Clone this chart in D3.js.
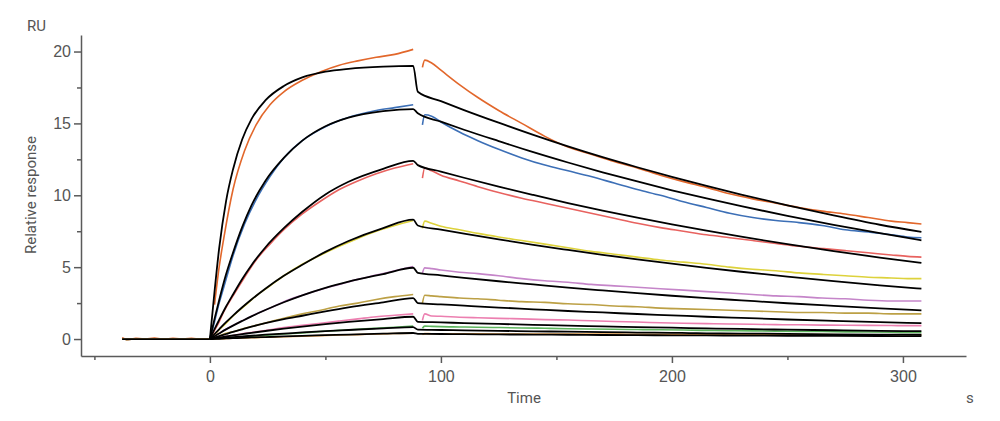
<!DOCTYPE html>
<html>
<head>
<meta charset="utf-8">
<script src="https://cdn.jsdelivr.net/npm/d3@7"></script>
<style>
  body { margin: 0; background: #fff; }
  svg { font-family: Roboto, "Noto Sans", sans-serif; }
  .axis path, .axis line { stroke: #5a5a5a; stroke-width: 1.5; }
  .axis text { fill: #555; font-size: 16px; }
  .lbl { fill: #555; font-size: 15px; }
</style>
</head>
<body>
<svg id="plot" width="1000" height="421"></svg>
<script>
// time grids (s)
var baseT = [-38, -36, -32, -28, -24, -20, -16, -12, -8, -4, 0];
var assocT = [0, 2, 4, 6, 10, 15, 20, 26, 32, 40, 48, 56, 64, 72, 80, 88];
var dissT = [92, 93, 96, 100, 108, 116, 125, 135, 145, 155, 165, 175, 185, 195, 205, 215, 225, 235, 245, 255, 265, 275, 285, 295, 302, 308];
var fitAssocT = [0, 2, 4, 7, 10, 14, 18, 24, 32, 40, 50, 60, 75, 88];
var fitDissT = [90, 100, 110, 125, 140, 155, 170, 185, 200, 215, 230, 250, 270, 290, 308];

// baseline noise before injection
var baseOrange = [0.1, -0.05, 0.05, 0.0, 0.07, -0.02, 0.06, 0.01, 0.05, -0.01, 0.0];
var baseZero = [0.02, -0.04, 0.0, 0.01, -0.01, 0.0, 0.01, -0.01, 0.0, 0.01, 0.0];

// measured curves
var names = ["c1", "c2", "c3", "c4", "c5", "c6", "c7", "c8", "c9"];
var colors = ["#e2672b", "#3c6fb6", "#e8625f", "#ddd23c", "#c585c9", "#bca045", "#ec7fb0", "#5db55d", "#eca24a"];

var assocVals = [
  [null, 2.4, 5.0, 7.0, 10.4, 13.1, 14.9, 16.3, 17.2, 18.0, 18.6, 19.05, 19.35, 19.6, 19.8, 20.15],
  [0, 1.2, 2.5, 3.6, 5.8, 8.0, 9.7, 11.3, 12.6, 13.8, 14.6, 15.2, 15.6, 15.9, 16.1, 16.3],
  [0, 0.6, 1.2, 1.9, 3.0, 4.3, 5.5, 6.6, 7.6, 8.7, 9.6, 10.4, 11.0, 11.5, 11.9, 12.2],
  [0, 0.3, 0.65, 0.95, 1.6, 2.3, 3.0, 3.7, 4.4, 5.2, 5.85, 6.45, 7.0, 7.5, 7.9, 8.25],
  [0, 0.2, 0.4, 0.6, 0.95, 1.35, 1.75, 2.15, 2.6, 3.05, 3.45, 3.8, 4.15, 4.45, 4.75, 5.05],
  [0, 0.1, 0.2, 0.35, 0.5, 0.75, 0.95, 1.2, 1.45, 1.75, 2.0, 2.3, 2.5, 2.75, 2.95, 3.1],
  [0, 0.05, 0.1, 0.15, 0.25, 0.4, 0.5, 0.65, 0.8, 0.95, 1.1, 1.25, 1.4, 1.55, 1.65, 1.75],
  [0, 0.02, 0.04, 0.06, 0.1, 0.15, 0.22, 0.28, 0.35, 0.43, 0.52, 0.6, 0.68, 0.75, 0.82, 0.9],
  [0, 0.01, 0.02, 0.03, 0.05, 0.07, 0.1, 0.13, 0.16, 0.2, 0.24, 0.28, 0.31, 0.35, 0.38, 0.4]
];
var dissVals = [
  [18.9, 19.4, 19.2, 18.7, 17.7, 16.8, 15.9, 15.0, 14.1, 13.35, 12.85, 12.35, 11.9, 11.4, 10.95, 10.55, 10.1, 9.75, 9.45, 9.15, 8.9, 8.7, 8.45, 8.2, 8.1, 8.0],
  [14.9, 15.6, 15.5, 15.1, 14.4, 13.8, 13.2, 12.6, 12.1, 11.7, 11.3, 10.85, 10.4, 10.0, 9.55, 9.15, 8.75, 8.45, 8.25, 8.1, 7.9, 7.6, 7.45, 7.25, 7.1, 7.05],
  [11.2, 11.9, 11.7, 11.4, 11.0, 10.6, 10.2, 9.8, 9.45, 9.1, 8.75, 8.4, 8.05, 7.75, 7.5, 7.25, 7.05, 6.85, 6.65, 6.45, 6.3, 6.15, 6.0, 5.85, 5.75, 5.7],
  [7.7, 8.2, 8.05, 7.85, 7.6, 7.35, 7.1, 6.85, 6.6, 6.35, 6.1, 5.9, 5.7, 5.5, 5.35, 5.2, 5.0, 4.85, 4.75, 4.6, 4.5, 4.4, 4.3, 4.25, 4.2, 4.2],
  [4.6, 4.95, 4.9, 4.8, 4.65, 4.55, 4.4, 4.2, 4.05, 3.95, 3.8, 3.7, 3.6, 3.5, 3.4, 3.3, 3.2, 3.1, 3.0, 2.95, 2.85, 2.8, 2.7, 2.65, 2.65, 2.65],
  [2.5, 3.05, 3.0, 2.95, 2.85, 2.8, 2.7, 2.6, 2.55, 2.45, 2.4, 2.3, 2.25, 2.15, 2.1, 2.05, 2.0, 1.95, 1.9, 1.85, 1.85, 1.8, 1.8, 1.75, 1.75, 1.75],
  [1.3, 1.75, 1.6, 1.58, 1.52, 1.48, 1.44, 1.4, 1.35, 1.32, 1.27, 1.22, 1.18, 1.13, 1.1, 1.07, 1.05, 1.03, 1.0, 0.99, 0.97, 0.96, 0.95, 0.94, 0.93, 0.93],
  [0.75, 0.9, 0.88, 0.86, 0.84, 0.82, 0.8, 0.77, 0.75, 0.72, 0.7, 0.68, 0.66, 0.65, 0.63, 0.6, 0.58, 0.57, 0.55, 0.53, 0.52, 0.5, 0.49, 0.47, 0.46, 0.45],
  [0.3, 0.38, 0.37, 0.37, 0.36, 0.36, 0.35, 0.35, 0.35, 0.34, 0.34, 0.34, 0.33, 0.33, 0.33, 0.32, 0.32, 0.32, 0.31, 0.31, 0.31, 0.3, 0.3, 0.3, 0.3, 0.3]
];

// fitted curves (black)
var fitAssoc = [
  [0, 3.3, 6.3, 9.6, 11.8, 13.9, 15.3, 16.6, 17.6, 18.2, 18.6, 18.8, 18.95, 19.0],
  [0, 1.4, 2.7, 4.5, 6.0, 7.8, 9.3, 11.0, 12.6, 13.8, 14.8, 15.4, 15.85, 16.0],
  [0, 0.69, 1.33, 2.26, 3.1, 4.18, 5.14, 6.37, 7.71, 8.85, 10.06, 10.94, 11.84, 12.4],
  [0, 0.35, 0.68, 1.17, 1.63, 2.21, 2.75, 3.5, 4.4, 5.17, 6.06, 6.82, 7.72, 8.3],
  [0, 0.2, 0.39, 0.67, 0.93, 1.26, 1.58, 2.02, 2.56, 3.04, 3.56, 3.99, 4.52, 4.96],
  [0, 0.1, 0.2, 0.35, 0.5, 0.68, 0.86, 1.1, 1.38, 1.62, 1.92, 2.2, 2.55, 2.85],
  [0, 0.05, 0.1, 0.18, 0.25, 0.34, 0.43, 0.56, 0.72, 0.87, 1.04, 1.19, 1.39, 1.55],
  [0, 0.03, 0.05, 0.09, 0.13, 0.18, 0.23, 0.3, 0.38, 0.46, 0.55, 0.63, 0.74, 0.83],
  [0, 0.01, 0.02, 0.04, 0.06, 0.08, 0.11, 0.14, 0.18, 0.22, 0.27, 0.31, 0.37, 0.42]
];
var fitDiss = [
  [17.2, 16.55, 15.93, 15.05, 14.2, 13.4, 12.65, 11.95, 11.28, 10.65, 10.05, 9.3, 8.6, 7.95, 7.45],
  [15.7, 15.12, 14.56, 13.77, 13.0, 12.28, 11.6, 10.96, 10.35, 9.78, 9.24, 8.57, 7.94, 7.36, 6.87],
  [12.1, 11.65, 11.22, 10.6, 10.02, 9.46, 8.94, 8.45, 7.98, 7.54, 7.12, 6.6, 6.12, 5.67, 5.3],
  [7.9, 7.61, 7.33, 6.93, 6.55, 6.2, 5.86, 5.54, 5.24, 4.95, 4.68, 4.34, 4.03, 3.74, 3.5],
  [4.6, 4.43, 4.26, 4.02, 3.8, 3.58, 3.38, 3.19, 3.01, 2.84, 2.69, 2.49, 2.31, 2.14, 2.0],
  [2.5, 2.41, 2.32, 2.19, 2.07, 1.95, 1.85, 1.74, 1.65, 1.55, 1.47, 1.36, 1.26, 1.17, 1.1],
  [1.2, 1.16, 1.11, 1.05, 0.99, 0.93, 0.88, 0.83, 0.79, 0.74, 0.7, 0.65, 0.61, 0.57, 0.55],
  [0.65, 0.63, 0.6, 0.57, 0.54, 0.51, 0.48, 0.45, 0.43, 0.4, 0.38, 0.36, 0.33, 0.31, 0.3],
  [0.36, 0.35, 0.34, 0.32, 0.31, 0.3, 0.28, 0.27, 0.26, 0.25, 0.24, 0.23, 0.22, 0.21, 0.2]
];

var xMajor = [0, 100, 200, 300];
var xMinor = [-50, 50, 150, 250];
var yMajor = [0, 5, 10, 15, 20];
var yMinor = [2.5, 7.5, 12.5, 17.5];

var svg = d3.select("#plot");

var x = d3.scaleLinear().domain([-55.8, 327.3]).range([81, 966]);
var y = d3.scaleLinear().domain([-1.18, 21.15]).range([356, 35]);

function zip(ts, vs) {
  return ts.map(function(t, i) { return [t, vs[i]]; });
}

var line = d3.line()
  .defined(function(d) { return d[1] != null; })
  .x(function(d) { return x(d[0]); })
  .y(function(d) { return y(d[1]); })
  .curve(d3.curveMonotoneX);

var flat = d3.line()
  .x(function(d) { return x(d[0]); })
  .y(function(d) { return y(d[1]); });

// axes
svg.append("g")
  .attr("class", "axis")
  .attr("transform", "translate(0,356)")
  .call(d3.axisBottom(x).tickValues(xMajor).tickSize(7).tickSizeOuter(0).tickPadding(8).tickFormat(d3.format("d")));
svg.append("g")
  .attr("class", "axis")
  .attr("transform", "translate(0,356)")
  .call(d3.axisBottom(x).tickValues(xMinor).tickSize(4).tickSizeOuter(0).tickFormat(""))
  .select(".domain").remove();

svg.append("g")
  .attr("class", "axis")
  .attr("transform", "translate(81,0)")
  .call(d3.axisLeft(y).tickValues(yMajor).tickSize(7).tickSizeOuter(0).tickPadding(3).tickFormat(d3.format("d")));
svg.append("g")
  .attr("class", "axis")
  .attr("transform", "translate(81,0)")
  .call(d3.axisLeft(y).tickValues(yMinor).tickSize(4).tickSizeOuter(0).tickFormat(""))
  .select(".domain").remove();

// labels
svg.append("text").attr("class", "lbl").attr("x", 27).attr("y", 31).text("RU");
svg.append("text").attr("class", "lbl")
  .attr("transform", "translate(36,195) rotate(-90)")
  .attr("text-anchor", "middle")
  .text("Relative response");
svg.append("text").attr("class", "lbl").attr("x", 524).attr("y", 403).attr("text-anchor", "middle").text("Time");
svg.append("text").attr("class", "lbl").attr("x", 966).attr("y", 403).text("s");

var plot = svg.append("g");

// measured traces
names.forEach(function(n, i) {
  var base = i == 0 ? baseOrange : baseZero;
  plot.append("path").datum(zip(baseT, base))
    .attr("fill", "none").attr("stroke", colors[i]).attr("stroke-width", 1.5)
    .attr("d", flat);
  plot.append("path").datum(zip(assocT, assocVals[i]))
    .attr("fill", "none").attr("stroke", colors[i]).attr("stroke-width", 1.6)
    .attr("d", line);
  plot.append("path").datum(zip(dissT, dissVals[i]))
    .attr("fill", "none").attr("stroke", colors[i]).attr("stroke-width", 1.6)
    .attr("d", line);
});

// fits on top
plot.append("path").datum([[-38, 0], [0, 0]])
  .attr("fill", "none").attr("stroke", "#000").attr("stroke-width", 1.8)
  .attr("d", flat);
names.forEach(function(n, i) {
  plot.append("path").datum(zip(fitAssocT, fitAssoc[i]).concat(zip(fitDissT, fitDiss[i])))
    .attr("fill", "none").attr("stroke", "#000").attr("stroke-width", 1.8)
    .attr("stroke-linejoin", "round")
    .attr("d", line);
});
</script>
</body>
</html>
